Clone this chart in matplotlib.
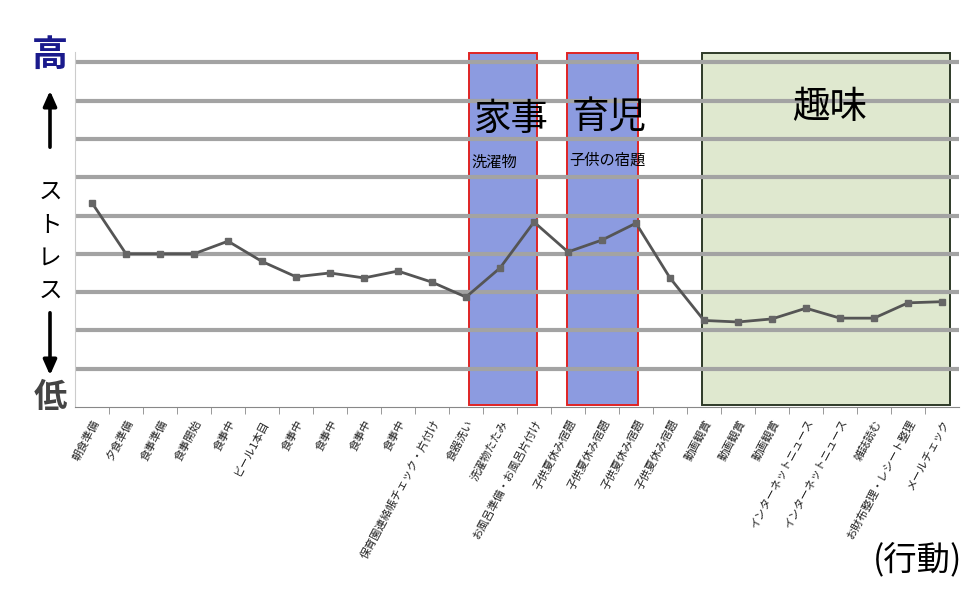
import matplotlib
matplotlib.use('Agg')
import matplotlib.pyplot as plt
from matplotlib.patches import Rectangle, FancyArrowPatch

plt.rcParams['font.family'] = ['Noto Sans CJK JP', 'DejaVu Sans']

# 行動ごとのストレス度
actions = [
    "朝食準備", "夕食準備", "食事準備", "食事開始", "食事中", "ビール1本目",
    "食事中", "食事中", "食事中", "食事中", "保育園連絡帳チェック・片付け",
    "食器洗い", "洗濯物たたみ", "お風呂準備・お風呂片付け",
    "子供夏休み宿題", "子供夏休み宿題", "子供夏休み宿題", "子供夏休み宿題",
    "動画観賞", "動画観賞", "動画観賞", "インターネットニュース",
    "インターネットニュース", "雑誌読む", "お財布整理・レシート整理", "メールチェック",
]
stress = [5.33, 4.0, 4.0, 4.0, 4.33, 3.8, 3.4, 3.5, 3.37, 3.55, 3.26, 2.87,
          3.63, 4.83, 4.05, 4.36, 4.8, 3.37, 2.26, 2.22, 2.3, 2.58, 2.32, 2.32,
          2.72, 2.75]

# 囲み(カテゴリ番号の範囲)
box_start = [11.1, 13.97, 17.94]
box_end = [13.1, 16.06, 25.24]

fig = plt.figure(figsize=(9.66, 6), dpi=100)
ax = fig.add_axes([75 / 966, 193 / 600, 884 / 966, 355 / 600])

x = list(range(len(actions)))
ax.set_xlim(-0.5, len(actions) - 0.5)
ax.set_ylim(0, 9.27)

# 囲み
styles = [("#8c9be0", "#e02424"), ("#8c9be0", "#e02424"), ("#dfe8cf", "#2e3a28")]
for s, e, (fc, ec) in zip(box_start, box_end, styles):
    ax.add_patch(Rectangle((s, 0.05), e - s, 9.2, facecolor=fc, edgecolor=ec,
                           lw=1.4, zorder=0.2))

# 目盛り線
ax.set_yticks(range(1, 10))
ax.set_yticklabels([])
ax.tick_params(axis='y', length=0)
ax.set_axisbelow(True)
ax.yaxis.grid(True, color="#a3a3a3", lw=3)

ax.plot(x, stress, color="#555555", lw=2, marker='s', ms=4.5,
        mfc="#666666", mec="#666666", zorder=3)

for sp in ['top', 'right']:
    ax.spines[sp].set_visible(False)
ax.spines['left'].set_color("#cccccc")
ax.spines['bottom'].set_color("#888888")

ax.set_xticks(x)
ax.set_xticklabels(actions, rotation=62, ha='right', rotation_mode='anchor',
                   fontsize=8, color="#222222")
ax.set_xticks([i + 0.5 for i in x[:-1]], minor=True)
ax.tick_params(axis='x', which='major', length=0, pad=8)
ax.tick_params(axis='x', which='minor', length=5, color="#888888")

# 囲みの見出し
ax.text(11.2, 7.5, "家事", fontsize=27, va='center', ha='left', zorder=4)
ax.text(11.15, 6.4, "洗濯物", fontsize=11, va='center', ha='left', zorder=4)
ax.text(14.1, 7.55, "育児", fontsize=27, va='center', ha='left', zorder=4)
ax.text(14.05, 6.45, "子供の宿題", fontsize=11, va='center', ha='left', zorder=4)
ax.text(21.7, 7.83, "趣味", fontsize=27, va='center', ha='center', zorder=4)

# 左側の縦軸表示
def fy(py):
    return 1 - py / 600

fig.text(50 / 966, fy(55), "高", fontsize=26, color="#1a1a8c", ha='center',
         va='center', weight='bold')
fig.text(50 / 966, fy(398), "低", fontsize=24, color="#444444", ha='center',
         va='center', weight='bold')
for i, ch in enumerate("ストレス"):
    fig.text(50 / 966, fy(192 + 33 * i), ch, fontsize=17, ha='center',
             va='center')
fig.patches.append(FancyArrowPatch(
    (50 / 966, fy(150)), (50 / 966, fy(88)), transform=fig.transFigure,
    arrowstyle='-|>,head_width=4,head_length=9', lw=2.6, color='black'))
fig.patches.append(FancyArrowPatch(
    (50 / 966, fy(310)), (50 / 966, fy(378)), transform=fig.transFigure,
    arrowstyle='-|>,head_width=4,head_length=9', lw=2.6, color='black'))

fig.text(962 / 966, fy(560), "(行動)", fontsize=24, ha='right', va='center')

fig.savefig("out.png", dpi=100)
